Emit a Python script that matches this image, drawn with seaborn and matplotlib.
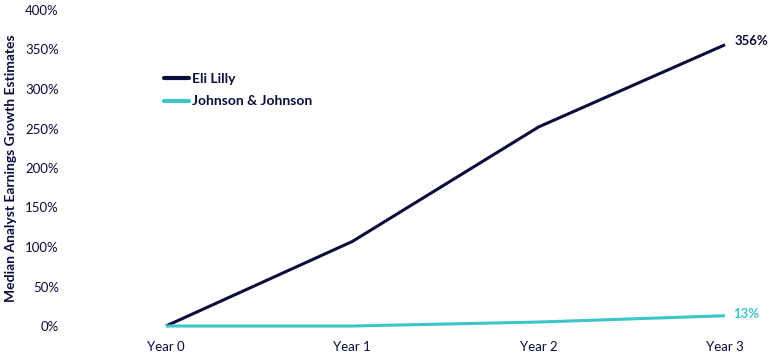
import matplotlib
matplotlib.use("Agg")
import matplotlib.pyplot as plt
import seaborn as sns
import pandas as pd

years = ["Year 0", "Year 1", "Year 2", "Year 3"]
eli_lilly = [0, 107, 252, 356]
jnj = [0, 0, 5, 13]
series_names = ["Eli Lilly", "Johnson & Johnson"]
end_labels = ["356%", "13%"]
y_ticks = [0, 50, 100, 150, 200, 250, 300, 350, 400]

NAVY = "#0c0c3c"
TEAL = "#3cc6c8"

df = pd.DataFrame({
    "Year": list(range(len(years))) * 2,
    "Growth": eli_lilly + jnj,
    "Company": [series_names[0]] * len(years) + [series_names[1]] * len(years),
})

sns.set_theme(style="white")
plt.rcParams["font.family"] = ["Lato", "DejaVu Sans"]

fig = plt.figure(figsize=(7.74, 3.59), dpi=100)
W, H = 774, 359
left_px, right_px, top_px, bot_px = 70, 760, 10, 326
ax = fig.add_axes([left_px / W, (H - bot_px) / H, (right_px - left_px) / W, (bot_px - top_px) / H])

sns.lineplot(data=df, x="Year", y="Growth", hue="Company",
             palette={series_names[0]: NAVY, series_names[1]: TEAL},
             linewidth=2.2, ax=ax, legend=False)
for l in ax.lines:
    l.set_clip_on(False)
    l.set_solid_capstyle("butt")

ax.set_xlim(-(166 - left_px) / 186.3, 3 + (right_px - 725) / 186.3)
ax.set_ylim(0, 400)
ax.set_xticks(range(len(years)))
ax.set_xticklabels(years, fontsize=9.5, color=NAVY)
ax.set_yticks(y_ticks)
ax.set_yticklabels([f"{v}%" for v in y_ticks], fontsize=9.5, color=NAVY)
ax.tick_params(axis="x", pad=11, length=0)
ax.tick_params(axis="y", pad=8, length=0)
ax.set_xlabel("")
ax.set_ylabel("Median Analyst Earnings Growth Estimates", fontsize=10, fontweight="bold",
              color=NAVY, labelpad=6)
for s in ax.spines.values():
    s.set_visible(False)
ax.grid(False)

# end labels
ax.annotate(end_labels[0], (3, eli_lilly[-1]), xytext=(7, 3), textcoords="offset points",
            fontsize=9.5, fontweight="bold", color=NAVY, va="center", ha="left")
ax.annotate(end_labels[1], (3, jnj[-1]), xytext=(6, 1), textcoords="offset points",
            fontsize=9.5, fontweight="bold", color=TEAL, va="center", ha="left")

# legend
from matplotlib.lines import Line2D
handles = [Line2D([], [], color=NAVY, lw=3), Line2D([], [], color=TEAL, lw=3)]
leg = ax.legend(handles, series_names, loc="upper left", bbox_to_anchor=(0.118, 0.84),
                frameon=False, handlelength=1.8, handletextpad=0.25, labelspacing=0.75,
                borderpad=0.4, prop={"weight": "bold", "size": 10})
for t in leg.get_texts():
    t.set_color(NAVY)

fig.savefig("out.png", dpi=100)
